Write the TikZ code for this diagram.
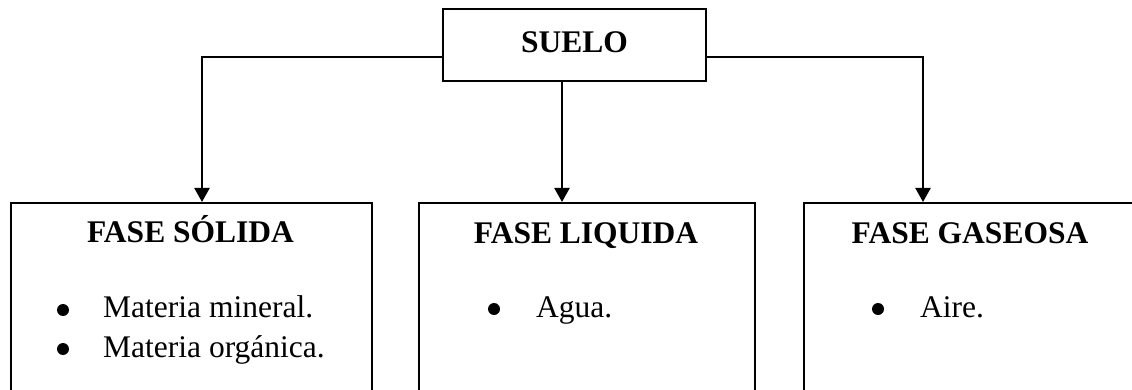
\documentclass[tikz,border=0pt]{standalone}
\usepackage{fontspec}
\setmainfont{Liberation Serif}
\usetikzlibrary{arrows.meta}
\tikzset{
  box/.style={draw, line width=2.2pt, inner sep=0pt},
  conn/.style={line width=2.2pt},
  arr/.style={conn, -{Triangle[width=15pt,length=14pt]}},
  title/.style={inner sep=0pt, anchor=base, font=\fontsize{31.5pt}{36pt}\selectfont\bfseries},
  itemtext/.style={inner sep=0pt, anchor=base west, font=\fontsize{31.5pt}{36pt}\selectfont},
  dot/.style={circle, fill=black, inner sep=0pt, minimum size=12pt},
}
\begin{document}
\begin{tikzpicture}[x=1pt,y=-1pt]
\useasboundingbox (0,0) rectangle (1132,390);
\clip (0,0) rectangle (1132,390);
% boxes
\node[box, minimum width=263pt, minimum height=72pt] (suelo) at (574.5,45) {};
\node[box, anchor=north west, minimum width=361pt, minimum height=240pt] (solida) at (10,202) {};
\node[box, anchor=north west, minimum width=336pt, minimum height=240pt] (liquida) at (418,202) {};
\node[box, anchor=north west, minimum width=334pt, minimum height=240pt] (gaseosa) at (803,202) {};
% texts
\node[title] (tsuelo) at (574.5,53) {SUELO};
\node[title] (tsolida) at (190.5,242) {FASE SÓLIDA};
\node[title] (tliquida) at (586,243) {FASE LIQUIDA};
\node[title] (tgaseosa) at (970,243) {FASE GASEOSA};
\node[dot] (b1) at (63,310) {};
\node[itemtext] (i1) at (103,317) {Materia mineral.};
\node[dot] (b2) at (63,349) {};
\node[itemtext] (i2) at (103,357) {Materia orgánica.};
\node[dot] (b3) at (494,309) {};
\node[itemtext] (i3) at (536,317) {Agua.};
\node[dot] (b4) at (878,309) {};
\node[itemtext] (i4) at (920,317) {Aire.};
% connectors
\draw[arr] ([yshift=-12pt]suelo.west) -| ([xshift=192pt]solida.north west);
\draw[arr] ([xshift=-12.5pt]suelo.south) -- ([xshift=-12.5pt]suelo.south |- liquida.north);
\draw[arr] ([yshift=-12pt]suelo.east) -| ([xshift=120pt]gaseosa.north west);
\end{tikzpicture}
\end{document}
